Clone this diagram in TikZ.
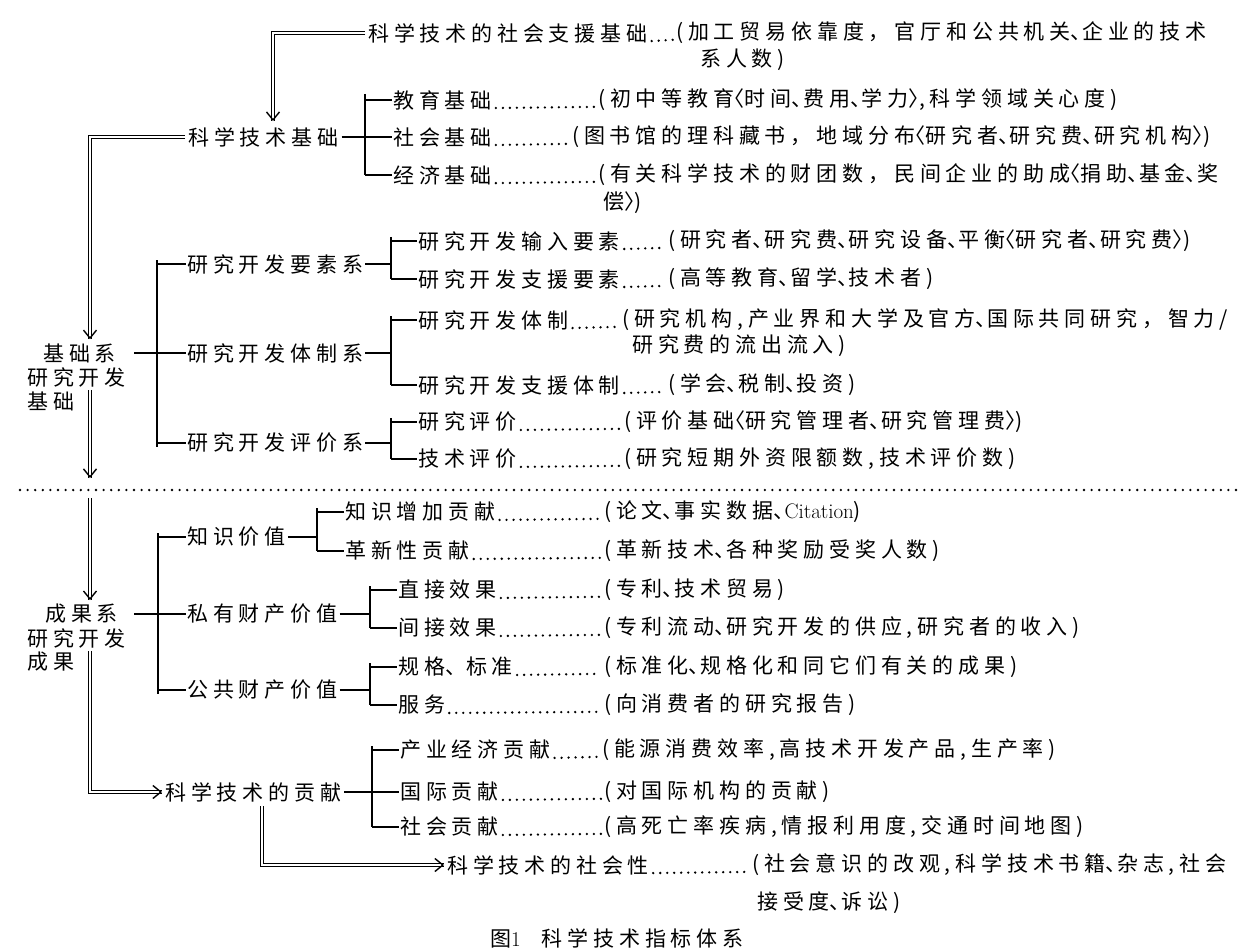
\documentclass[tikz,border=0pt]{standalone}
\usepackage{fontspec}
\newfontfamily\cjk[LetterSpace=23]{Noto Sans CJK SC}
\newcommand\dn{\makebox[0.55em][l]{、}}
\newcommand\lab{\makebox[0.5em][r]{〈}}
\newcommand\rab{\makebox[0.5em][l]{〉}}
\usetikzlibrary{arrows.meta,positioning}

\begin{document}
\begin{tikzpicture}[x=1pt, y=-1pt,
    every node/.style={font=\cjk\fontsize{21}{25}\selectfont, inner sep=0pt, anchor=west},
    line/.style={line width=1.4pt},
    lead/.style={line width=2.6pt, line cap=round, dash pattern=on 0pt off 7pt},
    dbl/.style={double, double distance=2.2pt, line width=1.1pt},
    barb/.style={line width=1.4pt, -{Straight Barb[length=8pt, width=13pt]}}]
\useasboundingbox (0,0) rectangle (1253,952);
\coordinate (c1) at (273,0);
\coordinate (c2) at (90,0);
\coordinate (c3) at (262,0);
\coordinate (sep) at (0,490);

% social support basis
\node (sup) at (368,33) {科学技术的社会支援基础};
\node (supd) at (676,33) {(加工贸易依靠度，官厅和公共机关\dn 企业的技术};
\node (supd2) at (700,60) {系人数)};
\draw[lead] ([xshift=4pt]sup.base east) -- ([xshift=-3pt]supd.base west);

% science and technology basis
\coordinate (b0) at (365,0);
\node (kj) at (188,137) {科学技术基础};
\node (jy) at (393,100) {教育基础};
\node (jyd) at (598,100) {(初中等教育\lab 时间\dn 费用\dn 学力\rab,科学领域关心度)};
\node (sh) at (393,137) {社会基础};
\node (shd) at (572,137) {(图书馆的理科藏书，地域分布\lab 研究者\dn 研究费\dn 研究机构\rab)};
\node (jj) at (393,175) {经济基础};
\node (jjd) at (598,175) {(有关科学技术的财团数，民间企业的助成\lab 捐助\dn 基金\dn 奖};
\node (jjd2) at (603,203) {偿\rab)};
\draw[line] ([xshift=3pt]kj.east) -- (kj.east -| b0);
\draw[line] ([yshift=6pt]jy.west -| b0) -- (jj.west -| b0);
\foreach \n in {jy,sh,jj} {
  \draw[line] (\n.west -| b0) -- ([xshift=-1pt]\n.west);
  \draw[lead] ([xshift=4pt]\n.base east) -- ([xshift=-3pt]\n d.base west);
}

% basis system
\node (jc1) at (43,353) {基础系};
\node (jc2) at (27,377) {研究开发};
\node (jc3) at (27,401) {基础};
\coordinate (b1) at (157,0);
\coordinate (b2) at (391,0);
\node (ys) at (187,264) {研究开发要素系};
\node (tz) at (187,353) {研究开发体制系};
\node (pj) at (187,443) {研究开发评价系};
\draw[line] ([xshift=18pt]jc1.east) -- (jc1.east -| b1);
\draw[line] ([yshift=4pt]ys.west -| b1) -- ([yshift=-4pt]pj.west -| b1);
\foreach \n in {ys,tz,pj} {
  \draw[line] (\n.west -| b1) -- ([xshift=-1pt]\n.west);
  \draw[line] ([xshift=2pt]\n.east) -- (\n.east -| b2);
}
\node (sr) at (418,241) {研究开发输入要素};
\node (srd) at (668,241) {(研究者\dn 研究费\dn 研究设备\dn 平衡\lab 研究者\dn 研究费\rab)};
\node (zy) at (418,279) {研究开发支援要素};
\node (zyd) at (668,279) {(高等教育\dn 留学\dn 技术者)};
\node (tzi) at (418,320) {研究开发体制};
\node (tzid) at (622,320) {(研究机构,产业界和大学及官方\dn 国际共同研究，智力/};
\node (tzid2) at (632,346) {研究费的流出流入)};
\node (zt) at (418,385) {研究开发支援体制};
\node (ztd) at (668,385) {(学会\dn 税制\dn 投资)};
\node (yp) at (418,422) {研究评价};
\node (ypd) at (624,422) {(评价基础\lab 研究管理者\dn 研究管理费\rab)};
\node (jp) at (418,459) {技术评价};
\node (jpd) at (624,459) {(研究短期外资限额数,技术评价数)};
\draw[line] ([yshift=4pt]sr.west -| b2) -- (zy.west -| b2);
\draw[line] ([yshift=4pt]tzi.west -| b2) -- (zt.west -| b2);
\draw[line] ([yshift=4pt]yp.west -| b2) -- (jp.west -| b2);
\foreach \n in {sr,zy,tzi,zt,yp,jp} {
  \draw[line] (\n.west -| b2) -- ([xshift=-1pt]\n.west);
  \draw[lead] ([xshift=4pt]\n.base east) -- ([xshift=-3pt]\n d.base west);
}

% separator
\draw[line width=2.6pt, line cap=round, dash pattern=on 0pt off 7.6pt] (20,490) -- (1237,490);

% results system
\node (cg1) at (45,614) {成果系};
\node (cg2) at (27,638) {研究开发};
\node (cg3) at (27,662) {成果};
\coordinate (b3) at (158,0);
\coordinate (b4) at (317,0);
\coordinate (b5) at (370,0);
\node (zs) at (187,537) {知识价值};
\node (sy) at (187,614) {私有财产价值};
\node (gg) at (187,690) {公共财产价值};
\draw[line] ([xshift=16pt]cg1.east) -- (cg1.east -| b3);
\draw[line] ([yshift=4pt]zs.west -| b3) -- ([yshift=-4pt]gg.west -| b3);
\foreach \n in {zs,sy,gg} \draw[line] (\n.west -| b3) -- ([xshift=-1pt]\n.west);
\draw[line] ([xshift=2pt]zs.east) -- (zs.east -| b4);
\draw[line] ([xshift=2pt]sy.east) -- (sy.east -| b5);
\draw[line] ([xshift=2pt]gg.east) -- (gg.east -| b5);
\node (zz) at (345,512) {知识增加贡献};
\node (zzd) at (604,512) {(论文\dn 事实数据\dn{\rmfamily Citation})};
\node (gx) at (345,551) {革新性贡献};
\node (gxd) at (604,551) {(革新技术\dn 各种奖励受奖人数)};
\node (zj) at (398,590) {直接效果};
\node (zjd) at (604,590) {(专利\dn 技术贸易)};
\node (jx) at (398,628) {间接效果};
\node (jxd) at (604,628) {(专利流动\dn 研究开发的供应,研究者的收入)};
\node (gb) at (398,667) {规格\dn\ 标准};
\node (gbd) at (604,667) {(标准化\dn 规格化和同它们有关的成果)};
\node (fw) at (398,705) {服务};
\node (fwd) at (604,705) {(向消费者的研究报告)};
\draw[line] ([yshift=4pt]zz.west -| b4) -- (gx.west -| b4);
\draw[line] ([yshift=4pt]zj.west -| b5) -- (jx.west -| b5);
\draw[line] ([yshift=4pt]gb.west -| b5) -- (fw.west -| b5);
\foreach \n in {zz,gx} \draw[line] (\n.west -| b4) -- ([xshift=-1pt]\n.west);
\foreach \n in {zj,jx,gb,fw} \draw[line] (\n.west -| b5) -- ([xshift=-1pt]\n.west);
\foreach \n in {zz,gx,zj,jx,gb,fw}
  \draw[lead] ([xshift=4pt]\n.base east) -- ([xshift=-3pt]\n d.base west);

% contribution
\coordinate (b6) at (372,0);
\node (gxs) at (165,792) {科学技术的贡献};
\node (cy) at (400,750) {产业经济贡献};
\node (cyd) at (602,750) {(能源消费效率,高技术开发产品,生产率)};
\node (gj) at (400,792) {国际贡献};
\node (gjd) at (604,792) {(对国际机构的贡献)};
\node (sg) at (400,827) {社会贡献};
\node (sgd) at (604,827) {(高死亡率疾病,情报利用度,交通时间地图)};
\draw[line] ([xshift=3pt]gxs.east) -- (gxs.east -| b6);
\draw[line] ([yshift=4pt]cy.west -| b6) -- (sg.west -| b6);
\foreach \n in {cy,gj,sg} {
  \draw[line] (\n.west -| b6) -- ([xshift=-1pt]\n.west);
  \draw[lead] ([xshift=4pt]\n.base east) -- ([xshift=-3pt]\n d.base west);
}

% social character
\node (sx) at (447,865) {科学技术的社会性};
\node (sxd) at (752,865) {(社会意识的改观,科学技术书籍\dn 杂志,社会};
\node (sxd2) at (757,903) {接受度\dn 诉讼)};
\draw[lead] ([xshift=4pt]sx.base east) -- ([xshift=-3pt]sxd.base west);

% double arrows
\draw[dbl] ([xshift=-3pt]sup.west) -| ([yshift=6pt]kj.north -| c1) coordinate (t1);
\draw[dbl] ([xshift=-3pt]kj.west) -| ([yshift=4pt]jc1.north -| c2) coordinate (t2);
\draw[dbl] ([yshift=-3pt]jc2.south -| c2) -- ([yshift=12pt]sep -| c2) coordinate (t3);
\draw[dbl] ([yshift=-8pt]sep -| c2) -- ([yshift=4pt]cg1.north -| c2) coordinate (t4);
\draw[dbl] ([yshift=-3pt]cg2.south -| c2) |- ([xshift=-3pt]gxs.west) coordinate (t5);
\draw[dbl] ([yshift=-4pt]gxs.south -| c3) |- ([xshift=-3pt]sx.west) coordinate (t6);
\foreach \t in {t1,t2,t3,t4} \draw[barb] ([yshift=2pt]\t) -- (\t);
\foreach \t in {t5,t6} \draw[barb] ([xshift=-2pt]\t) -- (\t);

\node (cap) at (490,938) {图{\rmfamily 1}\quad 科学技术指标体系};
\end{tikzpicture}
\end{document}
